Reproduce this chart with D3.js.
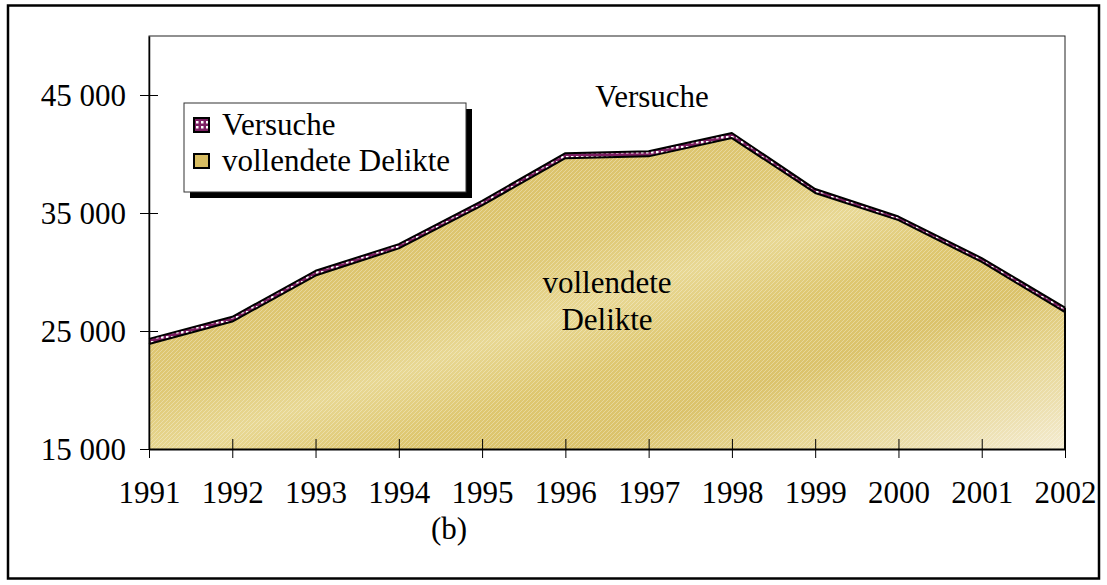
<!DOCTYPE html>
<html>
<head>
<meta charset="utf-8">
<script src="https://cdn.jsdelivr.net/npm/d3@7"></script>
<style>
  html, body { margin: 0; padding: 0; background: #fff; }
  svg text { font-family: "Liberation Serif", "Times New Roman", serif; fill: #000; }
</style>
</head>
<body>
<svg id="chart" width="1107" height="585"></svg>
<script>
// values (cases per year)
const years = [1991, 1992, 1993, 1994, 1995, 1996, 1997, 1998, 1999, 2000, 2001, 2002]
const vollendete = [23900, 25800, 29700, 32000, 35650, 39650, 39800, 41350, 36700, 34400, 30850, 26600]
const versuche = [430, 400, 400, 360, 380, 420, 430, 430, 330, 300, 330, 380]
const yTicks = [15000, 25000, 35000, 45000]
const seriesNames = ["vollendete Delikte", "Versuche"]

const svg = d3.select("#chart")
const plot = { left: 149, right: 1065, top: 36, bottom: 449 }

const x = d3.scalePoint().domain(years).range([plot.left, plot.right])
const y = d3.scaleLinear().domain([15000, 50000]).range([plot.bottom, plot.top])

const rows = years.map((yr, i) => ({ year: yr, "vollendete Delikte": vollendete[i], Versuche: versuche[i] }))
const stacked = d3.stack().keys(seriesNames)(rows)

// fills
const defs = svg.append("defs")
const grad = defs.append("linearGradient")
  .attr("id", "gold")
  .attr("gradientUnits", "userSpaceOnUse")
  .attr("x1", 470).attr("y1", 120).attr("x2", 640).attr("y2", 600)
;[[0, "#d8bd62"], [0.3, "#dfc976"], [0.42, "#e8d894"], [0.55, "#dec770"], [0.68, "#dbc36c"],
  [0.8, "#e6d590"], [0.9, "#ecdfae"], [1, "#f4ecd2"]].forEach(([o, c]) =>
  grad.append("stop").attr("offset", o).attr("stop-color", c))

const tex = defs.append("pattern")
  .attr("id", "tex").attr("patternUnits", "userSpaceOnUse")
  .attr("width", 4).attr("height", 4)
tex.append("path").attr("d", "M0,4 L4,0").attr("stroke", "#fff").attr("stroke-opacity", 0.3).attr("stroke-width", 1)

const dots = defs.append("pattern")
  .attr("id", "dots").attr("patternUnits", "userSpaceOnUse")
  .attr("width", 5).attr("height", 5)
dots.append("rect").attr("width", 5).attr("height", 5).attr("fill", "#7d1f63")
dots.append("rect").attr("x", 1).attr("y", 1).attr("width", 2.5).attr("height", 2.5).attr("fill", "#fff")

// outer frame
svg.append("rect")
  .attr("x", 8).attr("y", 5.5).attr("width", 1091).attr("height", 573)
  .attr("fill", "none").attr("stroke", "#000").attr("stroke-width", 2.5)

// plot frame
svg.append("rect")
  .attr("x", plot.left).attr("y", plot.top)
  .attr("width", plot.right - plot.left).attr("height", plot.bottom - plot.top)
  .attr("fill", "#fff").attr("stroke", "#222").attr("stroke-width", 1)

const area = d3.area()
  .x((d) => x(d.data.year))
  .y0((d) => y(Math.max(d[0], 15000)))
  .y1((d) => y(d[1]))

const line = d3.line().x((d) => x(d.data.year)).y((d) => y(d[1]))

// vollendete Delikte
svg.append("path").datum(stacked[0])
  .attr("d", area).attr("fill", "url(#gold)")
svg.append("path").datum(stacked[0])
  .attr("d", area).attr("fill", "url(#tex)")

// Versuche band
svg.append("path").datum(stacked[1])
  .attr("d", area).attr("fill", "url(#dots)")

stacked.forEach((s) => {
  svg.append("path").datum(s)
    .attr("d", line).attr("fill", "none")
    .attr("stroke", "#000").attr("stroke-width", 2).attr("stroke-linejoin", "round")
})
// right edge of the filled area
svg.append("line")
  .attr("x1", plot.right).attr("x2", plot.right)
  .attr("y1", y(stacked[1][years.length - 1][1])).attr("y2", plot.bottom)
  .attr("stroke", "#000").attr("stroke-width", 2)

// axes
const yAxis = d3.axisLeft(y).tickValues(yTicks).tickSizeInner(9).tickSizeOuter(0)
  .tickFormat((d) => d3.format(",")(d).replace(",", " "))
const gy = svg.append("g").attr("transform", `translate(${plot.left},0)`).call(yAxis)
gy.select(".domain").attr("stroke", "#000").attr("stroke-width", 1.5)
gy.selectAll(".tick line").attr("x2", -9).attr("x1", 9).attr("stroke", "#000")
gy.selectAll(".tick text").attr("x", -23).attr("dy", "0.34em")
  .style("font-size", "31px").style("font-family", "'Liberation Serif', serif")

const xAxis = d3.axisBottom(x).tickSizeInner(9).tickSizeOuter(0).tickFormat(d3.format("d"))
const gx = svg.append("g").attr("transform", `translate(0,${plot.bottom})`).call(xAxis)
gx.select(".domain").attr("stroke", "#000").attr("stroke-width", 2)
gx.selectAll(".tick line").attr("y1", -10).attr("y2", 9).attr("stroke", "#000")
gx.selectAll(".tick text").attr("y", 54).attr("dy", 0)
  .style("font-size", "31px").style("font-family", "'Liberation Serif', serif")

// in-chart labels
svg.append("text").attr("x", 652).attr("y", 107).attr("text-anchor", "middle")
  .style("font-size", "31px").text("Versuche")
svg.append("text").attr("x", 607).attr("y", 293).attr("text-anchor", "middle")
  .style("font-size", "31px").text("vollendete")
svg.append("text").attr("x", 607).attr("y", 330).attr("text-anchor", "middle")
  .style("font-size", "31px").text("Delikte")

svg.append("text").attr("x", 449).attr("y", 539).attr("text-anchor", "middle")
  .style("font-size", "31px").text("(b)")

// legend
const lg = svg.append("g")
lg.append("rect").attr("x", 190).attr("y", 109).attr("width", 282).attr("height", 89).attr("fill", "#000")
lg.append("rect").attr("x", 184).attr("y", 103).attr("width", 282).attr("height", 89)
  .attr("fill", "#fff").attr("stroke", "#333").attr("stroke-width", 1)
const legendItems = [
  { name: "Versuche", fill: "url(#dots)", y: 135 },
  { name: "vollendete Delikte", fill: "url(#gold)", y: 171 }
]
legendItems.forEach((it) => {
  lg.append("rect").attr("x", 194).attr("y", it.y - 17).attr("width", 15).attr("height", 14)
    .attr("fill", it.fill).attr("stroke", "#000").attr("stroke-width", 2)
  lg.append("text").attr("x", 222).attr("y", it.y).style("font-size", "31px").text(it.name)
})
</script>
</body>
</html>
